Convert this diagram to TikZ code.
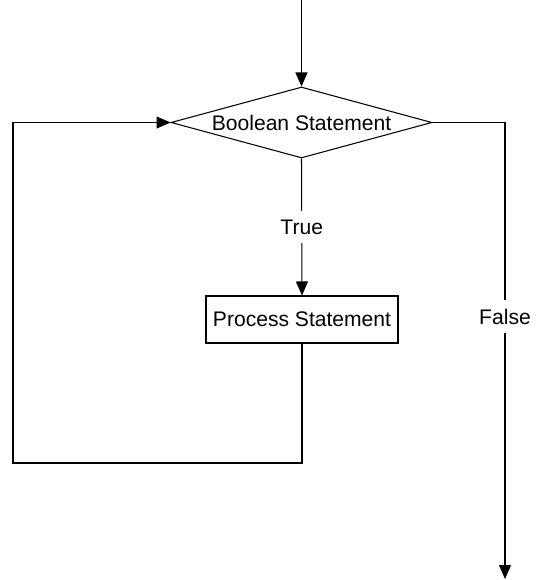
\documentclass[tikz,border=0pt]{standalone}
\usepackage{fontspec}
\setmainfont{Liberation Sans}
\usetikzlibrary{arrows.meta}
\usetikzlibrary{shapes.geometric}

\begin{document}
\begin{tikzpicture} [x=0.02cm, y=-0.02cm, line width=0.6pt,
  font=\fontsize{12}{14}\selectfont,
  flow/.style={-{Triangle[length=0.28cm, width=0.24cm]}},
  decision/.style={draw, diamond, aspect=3.69, inner sep=0pt, minimum width=5.22cm, minimum height=1.42cm},
  process/.style={draw, rectangle, minimum width=3.84cm, minimum height=0.94cm},
  lbl/.style={fill=white, inner xsep=2pt, inner ysep=5pt}]
\useasboundingbox (0,0) rectangle (536,580);

\node[decision] (cond) at (301.5,122.5) {Boolean Statement};
\node[process] (proc) at (302,319.5) {Process Statement};

\coordinate (start) at (301.5,0);
\coordinate (loop) at (13,463);
\coordinate (side) at (505,122.5);
\coordinate (finish) at (505,579);

\draw[flow] (start) -- (cond.north);
\draw[flow] (cond.south) -- node[lbl] (yes) {True} (proc.north);
\draw[flow] (proc.south) |- (loop) |- (cond.west);
\draw[flow] (cond.east) -- (side) -- node[lbl, pos=0.425] (no) {False} (finish);

\end{tikzpicture}
\end{document}
